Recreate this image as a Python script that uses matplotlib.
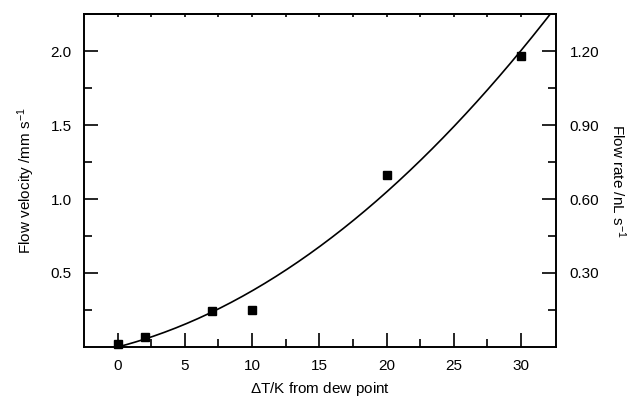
import numpy as np
import matplotlib
matplotlib.use('Agg')
import matplotlib.pyplot as plt
from matplotlib.ticker import FixedLocator, FormatStrFormatter

plt.rcParams['font.family'] = ['Liberation Sans', 'DejaVu Sans']
plt.rcParams['mathtext.default'] = 'regular'
plt.rcParams['font.size'] = 11

# data
dT = [0, 2, 7, 10, 20, 30]
velocity = [0.022, 0.07, 0.245, 0.252, 1.162, 1.966]
rate_factor = 0.6  # nL/s per mm/s (right axis)

# least-squares fit y = a*x + b*x^2 through the origin
X = np.array(dT, float)
A = np.column_stack([X, X**2])
coef = np.linalg.lstsq(A, np.array(velocity), rcond=None)[0]
xf = np.linspace(0, 33, 200)
yf = coef[0]*xf + coef[1]*xf**2

fig = plt.figure(figsize=(6.37, 4.01), dpi=100)
ax = fig.add_axes([0.1319, 0.1347, 0.7409, 0.8303])
ax.plot(xf, yf, color='black', lw=1.2)
ax.plot(dT, velocity, 's', color='black', ms=6, clip_on=False, zorder=3)

ax.set_xlim(-2.5, 32.6)
ax.set_ylim(0, 2.25)
ax.xaxis.set_major_locator(FixedLocator([0, 5, 10, 15, 20, 25, 30]))
ax.xaxis.set_minor_locator(FixedLocator([2.5, 7.5, 12.5, 17.5, 22.5, 27.5]))
ax.yaxis.set_major_locator(FixedLocator([0.5, 1.0, 1.5, 2.0]))
ax.yaxis.set_minor_locator(FixedLocator([0.25, 0.75, 1.25, 1.75]))
ax.yaxis.set_major_formatter(FormatStrFormatter('%.1f'))
ax.tick_params(which='both', direction='in', width=1.2, top=False, right=False,
               labelsize=11)
ax.tick_params(which='major', length=10, pad=9)
ax.tick_params(which='minor', length=5.5)
for s in ax.spines.values():
    s.set_linewidth(1.2)

top = ax.secondary_xaxis('top')
top.set_xticks(np.arange(0, 31, 2.5))
top.tick_params(direction='in', length=2, width=1.2, labeltop=False)
top.spines['top'].set_linewidth(1.2)

ax2 = ax.twinx()
ax2.set_ylim(0, 2.25*rate_factor)
ax2.yaxis.set_major_locator(FixedLocator([0.30, 0.60, 0.90, 1.20]))
ax2.yaxis.set_minor_locator(FixedLocator([0.15, 0.45, 0.75, 1.05]))
ax2.yaxis.set_major_formatter(FormatStrFormatter('%.2f'))
ax2.tick_params(which='both', direction='in', width=1.2, labelsize=11)
ax2.tick_params(which='major', length=10, pad=10)
ax2.tick_params(which='minor', length=5.5)
for s in ax2.spines.values():
    s.set_linewidth(1.2)

ax.set_xlabel(r'$\Delta$T/K from dew point', fontsize=11, labelpad=5)
ax.set_ylabel('Flow velocity /mm s$^{-1}$', fontsize=11, labelpad=10)
ax2.set_ylabel('Flow rate /nL s$^{-1}$', fontsize=11, rotation=-90, labelpad=20)

fig.savefig('out.png', dpi=100)
